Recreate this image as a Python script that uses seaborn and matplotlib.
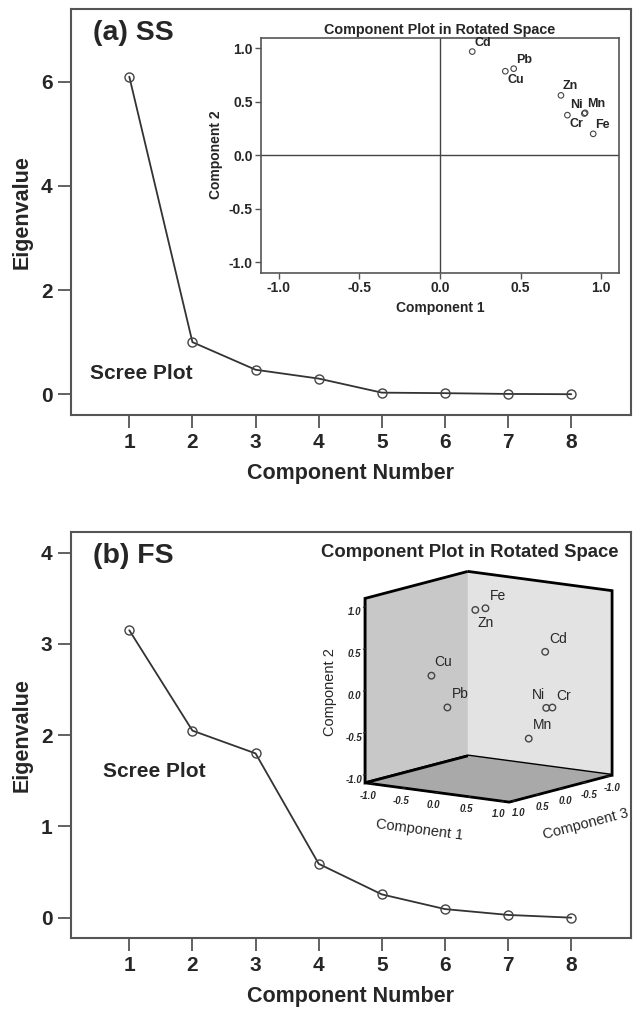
import matplotlib
matplotlib.use("Agg")
import matplotlib.pyplot as plt
from mpl_toolkits.mplot3d import proj3d
import pandas as pd
import seaborn as sns

# scree plot data
components = [1, 2, 3, 4, 5, 6, 7, 8]
eigen_ss = [6.10, 1.00, 0.47, 0.30, 0.03, 0.02, 0.005, 0.0]
eigen_fs = [3.15, 2.05, 1.80, 0.59, 0.255, 0.094, 0.03, 0.0]

# (a) SS rotated loadings, 2 components
metals_ss = ["Cd", "Pb", "Cu", "Zn", "Ni", "Mn", "Cr", "Fe"]
ss_comp1 = [0.20, 0.457, 0.405, 0.75, 0.895, 0.90, 0.79, 0.95]
ss_comp2 = [0.97, 0.81, 0.786, 0.56, 0.39, 0.397, 0.375, 0.20]

# (b) FS rotated loadings, 3 components
metals_fs = ["Fe", "Zn", "Cd", "Cu", "Pb", "Ni", "Cr", "Mn"]
fs_comp1 = [0.11, 0.055, 0.825, -0.165, 0.0, 0.88, 0.935, 0.66]
fs_comp2 = [0.98, 0.975, 0.495, 0.26, -0.118, -0.16, -0.158, -0.54]
fs_comp3 = [0.22, 0.36, -0.055, 0.99, 0.88, 0.0, -0.055, 0.066]

sns.set_style("white")
plt.rcParams["font.family"] = ["Liberation Sans", "DejaVu Sans"]

SPINE = "#555555"
fig = plt.figure(figsize=(6.33, 10.13), dpi=100)


def scree(rect, eig, ylim, yticks, tag, scree_xy):
    ax = fig.add_axes(rect)
    df = pd.DataFrame({"comp": components, "eig": eig})
    sns.lineplot(data=df, x="comp", y="eig", ax=ax, color="#333333", linewidth=1.3,
                 marker="o", markersize=6.5, markerfacecolor="none",
                 markeredgecolor="#444444", markeredgewidth=1.0)
    ax.set_xlim(0.07, 8.94)
    ax.set_ylim(*ylim)
    ax.set_xticks(components)
    ax.set_yticks(yticks)
    ax.tick_params(axis="both", direction="out", length=9.5, width=1.3, color=SPINE,
                   labelsize=15, bottom=True, left=True)
    for lab in ax.get_xticklabels() + ax.get_yticklabels():
        lab.set_fontweight("bold")
    for sp in ax.spines.values():
        sp.set_color(SPINE)
        sp.set_linewidth(1.5)
    ax.set_xlabel("Component Number", fontsize=15.5, fontweight="bold", labelpad=8)
    ax.set_ylabel("Eigenvalue", fontsize=15.5, fontweight="bold", labelpad=6)
    ax.text(0.04, 0.94, tag, transform=ax.transAxes, fontsize=20.5, fontweight="bold",
            ha="left", va="center")
    ax.text(scree_xy[0], scree_xy[1], "Scree Plot", transform=ax.transAxes, fontsize=15,
            fontweight="bold", ha="left", va="center")
    return ax


scree([0.1115, 0.5903, 0.8847, 0.4008], eigen_ss, (-0.4, 7.4), [0, 2, 4, 6],
      "(a) SS", (0.035, 0.103))
scree([0.1115, 0.0743, 0.8847, 0.4008], eigen_fs, (-0.22, 4.23), [0, 1, 2, 3, 4],
      "(b) FS", (0.057, 0.41))

# ---- inset (a): 2D component plot
axi = fig.add_axes([0.4123, 0.7308, 0.5656, 0.2320])
axi.axhline(0, color="#444444", lw=1.0, zorder=1)
axi.axvline(0, color="#444444", lw=1.0, zorder=1)
sns.scatterplot(x=ss_comp1, y=ss_comp2, ax=axi, marker="o", s=16, facecolor="none",
                edgecolor="#444444", linewidth=0.8, zorder=3)
offsets = {"Cd": (1.5, 6.0, "left"), "Pb": (1.5, 6.5, "left"), "Cu": (1.5, -6.5, "left"),
           "Zn": (1.0, 6.5, "left"), "Ni": (-1.0, 6.5, "right"), "Mn": (1.5, 6.5, "left"),
           "Cr": (1.5, -6.5, "left"), "Fe": (1.5, 6.5, "left")}
for m, x, y in zip(metals_ss, ss_comp1, ss_comp2):
    dx, dy, ha = offsets[m]
    axi.annotate(m, (x, y), xytext=(dx, dy), textcoords="offset points", ha=ha,
                 va="center", fontsize=9, fontweight="bold")
axi.set_xlim(-1.11, 1.11)
axi.set_ylim(-1.1, 1.1)
ticks = [-1.0, -0.5, 0.0, 0.5, 1.0]
axi.set_xticks(ticks)
axi.set_yticks(ticks)
axi.set_xticklabels([f"{t:.1f}" for t in ticks])
axi.set_yticklabels([f"{t:.1f}" for t in ticks])
axi.tick_params(axis="both", direction="out", length=4, width=1, color=SPINE,
                labelsize=10, bottom=True, left=True, pad=2)
for lab in axi.get_xticklabels() + axi.get_yticklabels():
    lab.set_fontweight("bold")
for sp in axi.spines.values():
    sp.set_color(SPINE)
    sp.set_linewidth(1.2)
axi.set_xlabel("Component 1", fontsize=10, fontweight="bold", labelpad=4)
axi.set_ylabel("Component 2", fontsize=10, fontweight="bold", labelpad=4)
axi.set_title("Component Plot in Rotated Space", fontsize=10.4, fontweight="bold", pad=3)

# ---- inset (b): 3D component plot (x = comp 3, y = comp 1, z = comp 2)
ax3 = fig.add_axes([0.5153, 0.168, 0.5, 0.3], projection="3d", proj_type="ortho")
ax3.patch.set_alpha(0)
ax3.view_init(elev=10.8, azim=35.5)
ax3.set_box_aspect((1, 1, 1.06))
ax3.grid(False)
ax3.set_xlim(-1.1, 1.1)
ax3.set_ylim(-1.1, 1.1)
ax3.set_zlim(-1.1, 1.1)
ax3.scatter(fs_comp3, fs_comp1, fs_comp2, marker="o", s=22, facecolor="none",
            edgecolor="#444444", linewidth=1.0, depthshade=False)
ax3.set_xticks(ticks)
ax3.set_yticks(ticks)
ax3.set_zticks(ticks)
ax3.set_xticklabels([f"{t:.1f}" for t in ticks])
ax3.set_yticklabels([f"{t:.1f}" for t in ticks])
ax3.set_zticklabels([f"{t:.1f}" for t in ticks])
pane_cols = {"x": "#e3e3e3", "y": "#c8c8c8", "z": "#a9a9a9"}
for name, axis in (("x", ax3.xaxis), ("y", ax3.yaxis), ("z", ax3.zaxis)):
    axis.set_pane_color(pane_cols[name])
    axis.pane.set_edgecolor("black")
    axis.pane.set_linewidth(2.0)
    axis.line.set_color("black")
    axis.line.set_linewidth(1.0)
    for t in axis.get_ticklabels():
        t.set_fontsize(7)
        t.set_fontweight("bold")
        t.set_fontstyle("italic")
ax3.tick_params(axis="x", pad=-4)
ax3.tick_params(axis="y", pad=-4)
ax3.tick_params(axis="z", pad=-3)
ax3.set_xlabel("Component 3", fontsize=10.5, labelpad=-1)
ax3.set_ylabel("Component 1", fontsize=10.5, labelpad=-1)
ax3.set_zlabel("Component 2", fontsize=10.5, labelpad=-5)

# point labels: project through the 3D axes, then annotate in its 2D data space
fig.canvas.draw()
M = ax3.get_proj()
lab3 = {"Fe": (3, 9, "left"), "Zn": (1.5, -9.5, "left"), "Cd": (3, 9, "left"),
        "Cu": (2, 9.5, "left"), "Pb": (3, 9.5, "left"), "Ni": (-1, 9, "right"),
        "Cr": (3, 8, "left"), "Mn": (3, 9.5, "left")}
for m, c1, c2, c3 in zip(metals_fs, fs_comp1, fs_comp2, fs_comp3):
    dx, dy, ha = lab3[m]
    px, py, _ = proj3d.proj_transform(c3, c1, c2, M)
    ax3.annotate(m, (px, py), xycoords="data", xytext=(dx, dy), textcoords="offset points",
                 ha=ha, va="center", fontsize=10, annotation_clip=False)

fig.text(0.742, 0.4541, "Component Plot in Rotated Space", fontsize=13.3, fontweight="bold",
         ha="center", va="center")

fig.savefig("out.png", dpi=100)
